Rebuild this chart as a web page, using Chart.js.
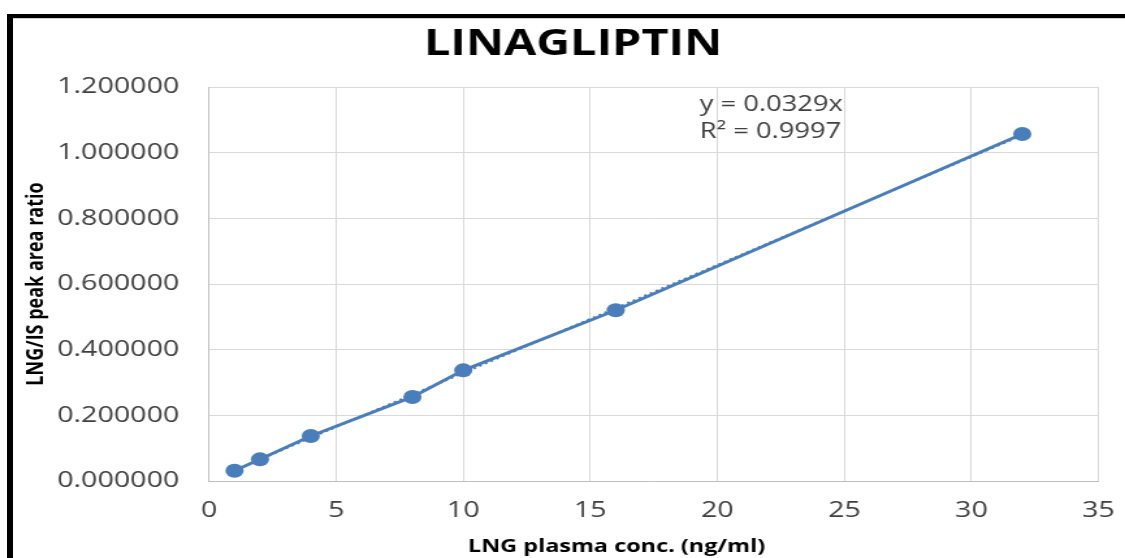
<!DOCTYPE html>
<html>
<head>
<meta charset="utf-8">
<title>LINAGLIPTIN</title>
<script src="https://cdn.jsdelivr.net/npm/chart.js@4"></script>
<style>
  html, body { margin: 0; padding: 0; background: #fff; overflow: hidden; }
  #wrap { position: relative; width: 1125px; height: 558px; }
  /* the picture is stretched sideways, so the canvas is too */
  #myChart { position: absolute; left: 0; top: 0; transform-origin: 0 0; transform: scaleX(1.3006); }
  .edge { position: absolute; background: #000; }
</style>
</head>
<body>
<div id="wrap">
  <canvas id="myChart" width="865" height="558"></canvas>
  <div class="edge" style="left:7px;top:14px;width:6px;height:544px"></div>
  <div class="edge" style="left:7px;top:14px;width:1118px;height:4px"></div>
  <div style="position:absolute;left:13px;top:18px;width:1112px;height:1px;background:#d0d0d0"></div>
</div>
<script>
// datos
const concentrations = [1, 2, 4, 8, 10, 16, 32];
const peakRatios = [0.031, 0.066, 0.137, 0.256, 0.337, 0.52, 1.057];
const trendX = [1, 32];
const trendY = [0.033, 1.053];
const yTickLabels = ["0.000000", "0.200000", "0.400000", "0.600000", "0.800000", "1.000000", "1.200000"];
const equationLines = ["y = 0.0329x", "R\u00b2 = 0.9997"];
const chartTitle = "LINAGLIPTIN";
const xTitle = "LNG plasma conc. (ng/ml)";
const yTitle = "LNG/IS peak area ratio";

const blue = "#4a7ebb";

Chart.defaults.font.family = "'Open Sans', sans-serif";

// texto extra: ecuacion de la tendencia y titulo del eje x
const extraText = {
  id: "extraText",
  afterDraw(chart) {
    const c = chart.ctx;
    c.save();
    c.textBaseline = "middle";
    c.fillStyle = "#404040";
    c.font = "21px 'Open Sans'";
    c.textAlign = "left";
    c.fillText(equationLines[0], 538, 105);
    c.fillText(equationLines[1], 538, 132);
    c.fillStyle = "#000";
    c.font = "bold 18px 'Open Sans'";
    c.textAlign = "center";
    c.fillText(xTitle, 474, 547);
    c.restore();
  },
};

const ctx = document.getElementById("myChart").getContext("2d");
const myChart = new Chart(ctx, {
  type: "scatter",
  data: {
    datasets: [
      {
        label: "LNG",
        data: concentrations.map((x, i) => ({ x: x, y: peakRatios[i] })),
        showLine: true,
        borderColor: blue,
        backgroundColor: blue,
        borderWidth: 3,
        pointRadius: 7,
        pointBorderWidth: 0,
      },
      {
        label: "Linear (LNG)",
        data: trendX.map((x, i) => ({ x: x, y: trendY[i] })),
        showLine: true,
        borderColor: blue,
        borderWidth: 2,
        borderDash: [2, 3],
        pointRadius: 0,
      },
    ],
  },
  options: {
    responsive: false,
    animation: false,
    layout: { padding: { top: 0, left: 16.2, right: 0, bottom: 0 } },
    scales: {
      x: {
        type: "linear",
        min: 0,
        max: 35,
        ticks: { stepSize: 5, padding: 17, color: "#404040", font: { size: 22 } },
        grid: { color: "#d9d9d9", drawTicks: false },
        border: { color: "#bfbfbf" },
        afterFit: (s) => {
          s.height = 77;
          s.paddingLeft = 0;
          s.paddingRight = 20.4;
        },
      },
      y: {
        min: 0,
        max: 1.2,
        ticks: {
          stepSize: 0.2,
          padding: 23,
          color: "#404040",
          font: { size: 22 },
          callback: (v, i) => yTickLabels[i],
        },
        grid: { color: "#d9d9d9", drawTicks: false },
        border: { color: "#bfbfbf" },
        title: {
          display: true,
          text: yTitle,
          color: "#000",
          font: { size: 18, weight: "bold" },
          padding: { top: 1, bottom: 0 },
        },
        afterFit: (s) => { s.width = 144.6; },
      },
    },
    plugins: {
      legend: { display: false },
      tooltip: { enabled: false },
      title: {
        display: true,
        text: chartTitle,
        color: "#000",
        font: { size: 36, weight: "bold" },
        padding: { top: 23, bottom: 20.8 },
      },
    },
  },
  plugins: [extraText],
});
</script>
</body>
</html>
